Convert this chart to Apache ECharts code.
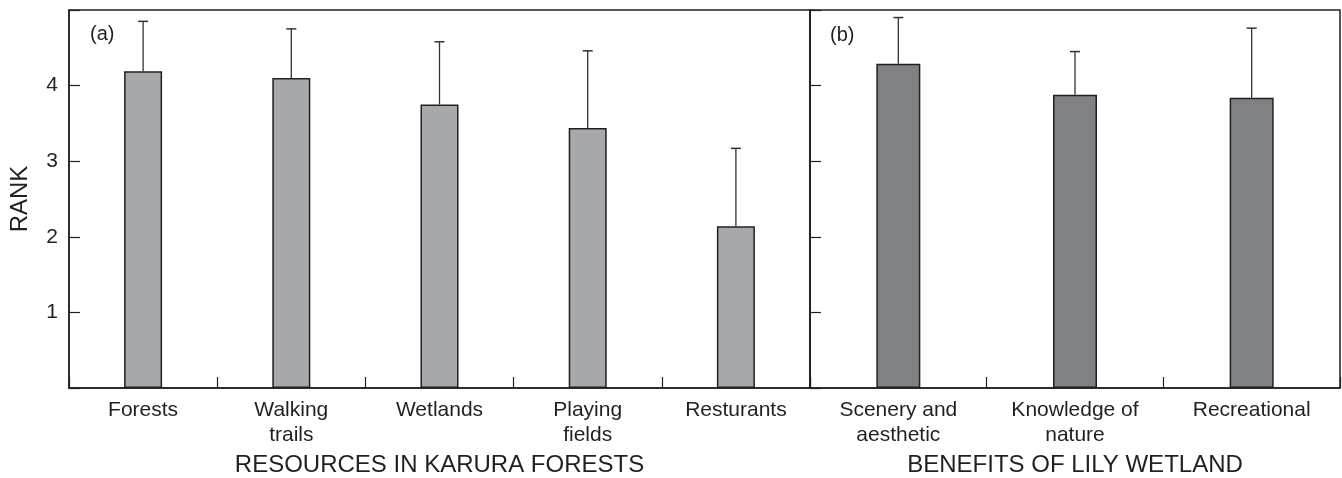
<!DOCTYPE html>
<html>
<head>
<meta charset="utf-8">
<script src="https://cdn.jsdelivr.net/npm/echarts@6/dist/echarts.min.js"></script>
<style>
html,body{margin:0;padding:0;background:#fff;}
#chart{width:1342px;height:478px;}
</style>
</head>
<body>
<div id="chart"></div>
<script>
// ---- data ----
const catsA = ['Forests', 'Walking\ntrails', 'Wetlands', 'Playing\nfields', 'Resturants'];
const meanA = [4.19, 4.10, 3.75, 3.44, 2.14];
const upperA = [4.85, 4.75, 4.58, 4.46, 3.17];

const catsB = ['Scenery and\naesthetic', 'Knowledge of\nnature', 'Recreational'];
const meanB = [4.29, 3.88, 3.84];
const upperB = [4.90, 4.45, 4.76];

const yTickLabels = [1, 2, 3, 4];
const titleA = 'RESOURCES IN KARURA FORESTS';
const titleB = 'BENEFITS OF LILY WETLAND';
const yTitle = 'RANK';
const panelA = '(a)';
const panelB = '(b)';

// ---- style ----
const FONT = "'Liberation Sans', Arial, Helvetica, sans-serif";
const INK = '#231f20';

function errData(means, uppers) {
  return means.map((m, i) => [i, m, uppers[i]]);
}

function errRender(params, api) {
  const x = api.value(0);
  const lo = api.coord([x, api.value(1)]);
  const hi = api.coord([x, api.value(2)]);
  const half = 5;
  return {
    type: 'group',
    children: [
      { type: 'line', shape: { x1: lo[0], y1: lo[1], x2: hi[0], y2: hi[1] },
        style: { stroke: '#333', lineWidth: 1.3 } },
      { type: 'line', shape: { x1: hi[0] - half, y1: hi[1], x2: hi[0] + half, y2: hi[1] },
        style: { stroke: '#333', lineWidth: 1.5 } }
    ]
  };
}

function yAxisCfg(gridIndex, showLabels) {
  return {
    type: 'value', gridIndex: gridIndex, min: 0, max: 5, interval: 1,
    axisLine: { show: true, lineStyle: { color: INK, width: 1.5 } },
    axisTick: { show: true, inside: true, length: 11, lineStyle: { color: INK, width: 1.2 } },
    splitLine: { show: false },
    axisLabel: {
      show: showLabels, fontSize: 21, color: INK, fontFamily: FONT, margin: 11,
      formatter: v => (yTickLabels.indexOf(v) >= 0 ? String(v) : '')
    }
  };
}

function xAxisCfg(gridIndex, cats, title) {
  return {
    type: 'category', gridIndex: gridIndex, data: cats,
    axisLine: { show: true, lineStyle: { color: INK, width: 1.5 } },
    axisTick: { show: true, inside: true, length: 11, alignWithLabel: false, interval: 0,
                lineStyle: { color: INK, width: 1.2 } },
    axisLabel: { interval: 0, fontSize: 21, lineHeight: 25, color: INK, fontFamily: FONT, margin: 10 },
    name: title, nameLocation: 'middle', nameGap: 62,
    nameTextStyle: { fontSize: 24, color: INK, fontFamily: FONT }
  };
}

const chart = echarts.init(document.getElementById('chart'), null, { renderer: 'canvas' });
const yA = yAxisCfg(0, true);
yA.name = yTitle;
yA.nameLocation = 'middle';
yA.nameGap = 37;
yA.nameTextStyle = { fontSize: 24, color: INK, fontFamily: FONT };

chart.setOption({
  backgroundColor: '#ffffff',
  animation: false,
  grid: [
    { left: 69, top: 10, width: 741, height: 378, show: true, borderColor: INK, borderWidth: 1.5,
      backgroundColor: 'transparent', containLabel: false, outerBoundsMode: 'none' },
    { left: 810, top: 10, width: 530, height: 378, show: true, borderColor: INK, borderWidth: 1.5,
      backgroundColor: 'transparent', containLabel: false, outerBoundsMode: 'none' }
  ],
  xAxis: [xAxisCfg(0, catsA, titleA), xAxisCfg(1, catsB, titleB)],
  yAxis: [yA, yAxisCfg(1, false)],
  series: [
    { type: 'bar', xAxisIndex: 0, yAxisIndex: 0, data: meanA, barWidth: 38,
      itemStyle: { color: '#a7a8ab', borderColor: INK, borderWidth: 1.5 } },
    { type: 'bar', xAxisIndex: 1, yAxisIndex: 1, data: meanB, barWidth: 44,
      itemStyle: { color: '#808184', borderColor: INK, borderWidth: 1.5 } },
    { type: 'custom', xAxisIndex: 0, yAxisIndex: 0, data: errData(meanA, upperA),
      renderItem: errRender, z: 5 },
    { type: 'custom', xAxisIndex: 1, yAxisIndex: 1, data: errData(meanB, upperB),
      renderItem: errRender, z: 5 }
  ],
  graphic: [
    { type: 'text', left: 90, top: 24, style: { text: panelA, font: '20px ' + FONT, fill: INK } },
    { type: 'text', left: 830, top: 25, style: { text: panelB, font: '20px ' + FONT, fill: INK } }
  ]
});
</script>
</body>
</html>
